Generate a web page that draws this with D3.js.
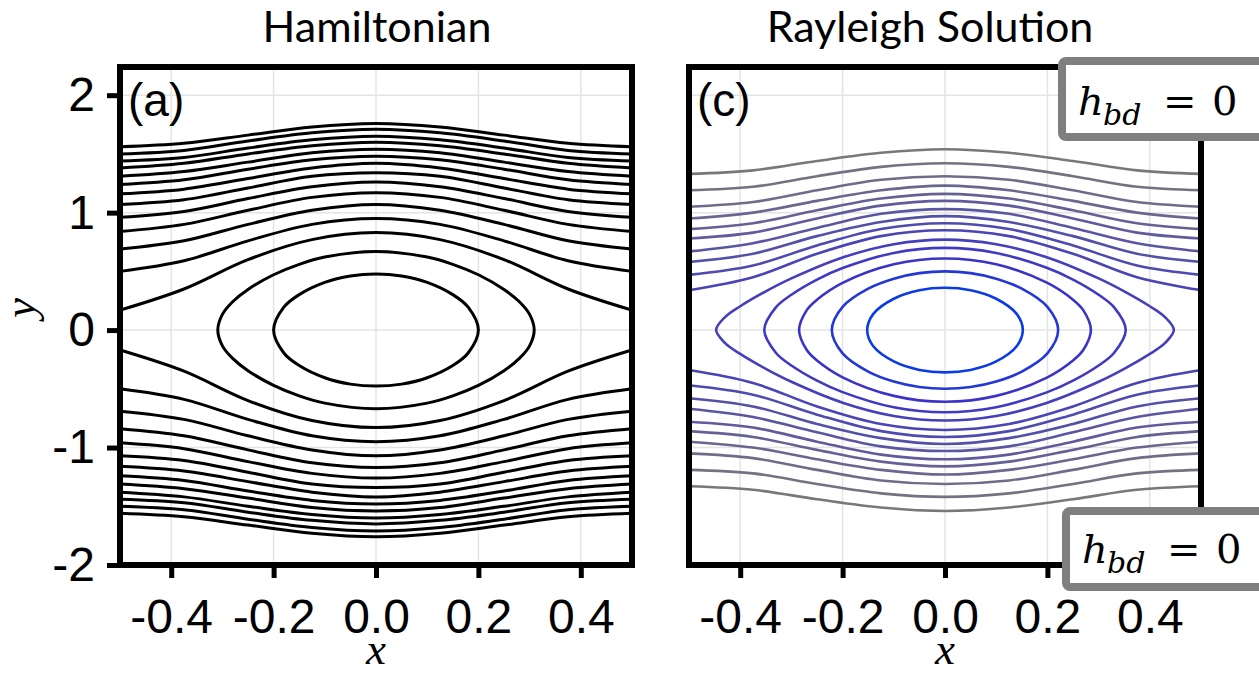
<!DOCTYPE html>
<html>
<head>
<meta charset="utf-8">
<script src="https://cdn.jsdelivr.net/npm/d3@7"></script>
<style>
  body { margin: 0; background: #fff; }
  svg { display: block; }
</style>
</head>
<body>
<script>
// tick values
const xTicks = [-0.4, -0.2, 0, 0.2, 0.4]
const yTicks = [-2, -1, 0, 1, 2]

const sampleX = [-0.5, -0.375, -0.25, -0.125, 0, 0.125, 0.25, 0.375, 0.5]

// (a) Hamiltonian: open contours above / below the island, y at sampleX
const hamUpper = [
  [0.17, 0.35, 0.60, 0.77, 0.83, 0.77, 0.60, 0.35, 0.17],
  [0.50, 0.59, 0.76, 0.90, 0.95, 0.90, 0.76, 0.59, 0.50],
  [0.69, 0.76, 0.90, 1.02, 1.07, 1.02, 0.90, 0.76, 0.69],
  [0.84, 0.90, 1.02, 1.13, 1.17, 1.13, 1.02, 0.90, 0.84],
  [0.96, 1.01, 1.12, 1.22, 1.26, 1.22, 1.12, 1.01, 0.96],
  [1.07, 1.11, 1.21, 1.31, 1.34, 1.31, 1.21, 1.11, 1.07],
  [1.16, 1.20, 1.29, 1.38, 1.42, 1.38, 1.29, 1.20, 1.16],
  [1.24, 1.28, 1.37, 1.45, 1.48, 1.45, 1.37, 1.28, 1.24],
  [1.31, 1.35, 1.43, 1.51, 1.54, 1.51, 1.43, 1.35, 1.31],
  [1.38, 1.42, 1.50, 1.57, 1.60, 1.57, 1.50, 1.42, 1.38],
  [1.44, 1.47, 1.55, 1.62, 1.65, 1.62, 1.55, 1.47, 1.44],
  [1.50, 1.53, 1.61, 1.68, 1.71, 1.68, 1.61, 1.53, 1.50],
  [1.56, 1.59, 1.66, 1.73, 1.76, 1.73, 1.66, 1.59, 1.56]
]
const hamLower = [
  [-0.17, -0.35, -0.60, -0.77, -0.83, -0.77, -0.60, -0.35, -0.17],
  [-0.50, -0.59, -0.76, -0.90, -0.95, -0.90, -0.76, -0.59, -0.50],
  [-0.69, -0.76, -0.90, -1.02, -1.07, -1.02, -0.90, -0.76, -0.69],
  [-0.84, -0.90, -1.02, -1.13, -1.17, -1.13, -1.02, -0.90, -0.84],
  [-0.96, -1.01, -1.12, -1.22, -1.26, -1.22, -1.12, -1.01, -0.96],
  [-1.07, -1.11, -1.21, -1.31, -1.34, -1.31, -1.21, -1.11, -1.07],
  [-1.16, -1.20, -1.29, -1.38, -1.42, -1.38, -1.29, -1.20, -1.16],
  [-1.24, -1.28, -1.37, -1.45, -1.48, -1.45, -1.37, -1.28, -1.24],
  [-1.31, -1.35, -1.43, -1.51, -1.54, -1.51, -1.43, -1.35, -1.31],
  [-1.38, -1.42, -1.50, -1.57, -1.60, -1.57, -1.50, -1.42, -1.38],
  [-1.44, -1.47, -1.55, -1.62, -1.65, -1.62, -1.55, -1.47, -1.44],
  [-1.50, -1.53, -1.61, -1.68, -1.71, -1.68, -1.61, -1.53, -1.50],
  [-1.56, -1.59, -1.66, -1.73, -1.76, -1.73, -1.66, -1.59, -1.56]
]
// (a) closed orbits, [x, y] points around each loop
const hamIslands = [
  [[0.2, 0], [0.18, 0.195], [0.15, 0.302], [0.1, 0.406], [0.05, 0.46], [0, 0.477],
   [-0.05, 0.46], [-0.1, 0.406], [-0.15, 0.302], [-0.18, 0.195], [-0.2, 0],
   [-0.18, -0.195], [-0.15, -0.302], [-0.1, -0.406], [-0.05, -0.46], [0, -0.477],
   [0.05, -0.46], [0.1, -0.406], [0.15, -0.302], [0.18, -0.195]],
  [[0.309, 0], [0.3, 0.134], [0.28, 0.241], [0.25, 0.346], [0.2, 0.471], [0.15, 0.56], [0.1, 0.622], [0, 0.67],
   [-0.1, 0.622], [-0.15, 0.56], [-0.2, 0.471], [-0.25, 0.346], [-0.28, 0.241], [-0.3, 0.134], [-0.309, 0],
   [-0.3, -0.134], [-0.28, -0.241], [-0.25, -0.346], [-0.2, -0.471], [-0.15, -0.56], [-0.1, -0.622], [0, -0.67],
   [0.1, -0.622], [0.15, -0.56], [0.2, -0.471], [0.25, -0.346], [0.28, -0.241], [0.3, -0.134]]
]

// (c) Rayleigh solution: open contours, y at sampleX
const rayUpper = [
  [0.34, 0.45, 0.65, 0.80, 0.85, 0.80, 0.65, 0.45, 0.34],
  [0.47, 0.55, 0.72, 0.86, 0.91, 0.86, 0.72, 0.55, 0.47],
  [0.58, 0.65, 0.80, 0.92, 0.97, 0.92, 0.80, 0.65, 0.58],
  [0.67, 0.74, 0.87, 0.99, 1.03, 0.99, 0.87, 0.74, 0.67],
  [0.78, 0.83, 0.95, 1.06, 1.10, 1.06, 0.95, 0.83, 0.78],
  [0.86, 0.91, 1.02, 1.12, 1.16, 1.12, 1.02, 0.91, 0.86],
  [0.95, 1.00, 1.10, 1.19, 1.23, 1.19, 1.10, 1.00, 0.95],
  [1.05, 1.09, 1.19, 1.28, 1.31, 1.28, 1.19, 1.09, 1.05],
  [1.19, 1.22, 1.31, 1.39, 1.42, 1.39, 1.31, 1.22, 1.19],
  [1.33, 1.36, 1.44, 1.51, 1.54, 1.51, 1.44, 1.36, 1.33]
]
const rayLower = [
  [-0.34, -0.45, -0.65, -0.80, -0.85, -0.80, -0.65, -0.45, -0.34],
  [-0.47, -0.55, -0.72, -0.86, -0.91, -0.86, -0.72, -0.55, -0.47],
  [-0.58, -0.65, -0.80, -0.92, -0.97, -0.92, -0.80, -0.65, -0.58],
  [-0.67, -0.74, -0.87, -0.99, -1.03, -0.99, -0.87, -0.74, -0.67],
  [-0.78, -0.83, -0.95, -1.06, -1.10, -1.06, -0.95, -0.83, -0.78],
  [-0.86, -0.91, -1.02, -1.12, -1.16, -1.12, -1.02, -0.91, -0.86],
  [-0.95, -1.00, -1.10, -1.19, -1.23, -1.19, -1.10, -1.00, -0.95],
  [-1.05, -1.09, -1.19, -1.28, -1.31, -1.28, -1.19, -1.09, -1.05],
  [-1.19, -1.22, -1.31, -1.39, -1.42, -1.39, -1.31, -1.22, -1.19],
  [-1.33, -1.36, -1.44, -1.51, -1.54, -1.51, -1.44, -1.36, -1.33]
]
// (c) closed orbits
const rayIslands = [
  [[0.152, 0], [0.14, 0.138], [0.1, 0.267], [0.05, 0.339], [0, 0.36], [-0.05, 0.339], [-0.1, 0.267], [-0.14, 0.138],
   [-0.152, 0], [-0.14, -0.138], [-0.1, -0.267], [-0.05, -0.339], [0, -0.36], [0.05, -0.339], [0.1, -0.267], [0.14, -0.138]],
  [[0.221, 0], [0.2, 0.198], [0.15, 0.353], [0.1, 0.438], [0.05, 0.485], [0, 0.5], [-0.05, 0.485], [-0.1, 0.438],
   [-0.15, 0.353], [-0.2, 0.198], [-0.221, 0], [-0.2, -0.198], [-0.15, -0.353], [-0.1, -0.438], [-0.05, -0.485],
   [0, -0.5], [0.05, -0.485], [0.1, -0.438], [0.15, -0.353], [0.2, -0.198]],
  [[0.285, 0], [0.27, 0.17], [0.25, 0.259], [0.2, 0.402], [0.1, 0.56], [0, 0.61], [-0.1, 0.56], [-0.2, 0.402],
   [-0.25, 0.259], [-0.27, 0.17], [-0.285, 0], [-0.27, -0.17], [-0.25, -0.259], [-0.2, -0.402], [-0.1, -0.56],
   [0, -0.61], [0.1, -0.56], [0.2, -0.402], [0.25, -0.259], [0.27, -0.17]],
  [[0.353, 0], [0.33, 0.195], [0.3, 0.301], [0.25, 0.43], [0.2, 0.528], [0.1, 0.657], [0, 0.7], [-0.1, 0.657],
   [-0.2, 0.528], [-0.25, 0.43], [-0.3, 0.301], [-0.33, 0.195], [-0.353, 0], [-0.33, -0.195], [-0.3, -0.301],
   [-0.25, -0.43], [-0.2, -0.528], [-0.1, -0.657], [0, -0.7], [0.1, -0.657], [0.2, -0.528], [0.25, -0.43],
   [0.3, -0.301], [0.33, -0.195]],
  [[0.447, 0], [0.43, 0.109], [0.4, 0.203], [0.35, 0.33], [0.3, 0.44], [0.2, 0.618], [0.1, 0.731], [0, 0.77],
   [-0.1, 0.731], [-0.2, 0.618], [-0.3, 0.44], [-0.35, 0.33], [-0.4, 0.203], [-0.43, 0.109], [-0.447, 0],
   [-0.43, -0.109], [-0.4, -0.203], [-0.35, -0.33], [-0.3, -0.44], [-0.2, -0.618], [-0.1, -0.731], [0, -0.77],
   [0.1, -0.731], [0.2, -0.618], [0.3, -0.44], [0.35, -0.33], [0.4, -0.203], [0.43, -0.109]]
]

const width = 1259
const height = 691
const plotTop = 67
const plotBottom = 565

const svg = d3
  .select('body')
  .append('svg')
  .attr('width', width)
  .attr('height', height)
  .style('font-family', "'Liberation Sans', Arial, sans-serif")

const yScale = d3.scaleLinear().domain([-2, 2.24]).range([plotBottom, plotTop])

// contour colour for the Rayleigh panel, innermost loop = 0
const rayColor = d3
  .scaleLinear()
  .domain([0, 2, 14])
  .range(['#0a3be6', '#3b33c8', '#78787c'])

const panels = [
  {
    left: 120, right: 632, title: 'Hamiltonian', titleX: 377, tag: '(a)', showY: true,
    upper: hamUpper, lower: hamLower, islands: hamIslands,
    width: 3, color: () => '#000'
  },
  {
    left: 689, right: 1201, title: 'Rayleigh Solution', titleX: 930, tag: '(c)', showY: false,
    upper: rayUpper, lower: rayLower, islands: rayIslands,
    width: 2.6, color: rayColor
  }
]

panels.forEach(function(p) {
  const x = d3.scaleLinear().domain([-0.5, 0.5]).range([p.left, p.right])
  const g = svg.append('g')

  // grid
  g.selectAll('.vgrid')
    .data(xTicks)
    .join('line')
    .attr('x1', d => x(d))
    .attr('x2', d => x(d))
    .attr('y1', plotTop)
    .attr('y2', plotBottom)
    .attr('stroke', '#e4e4e4')
    .attr('stroke-width', 1.5)
  g.selectAll('.hgrid')
    .data(yTicks.filter(d => d > -2))
    .join('line')
    .attr('x1', p.left)
    .attr('x2', p.right)
    .attr('y1', d => yScale(d))
    .attr('y2', d => yScale(d))
    .attr('stroke', '#e4e4e4')
    .attr('stroke-width', 1.5)

  const openLine = d3
    .line()
    .x((d, i) => x(sampleX[i]))
    .y(d => yScale(d))
    .curve(d3.curveCatmullRom.alpha(0.5))
  const loopLine = d3
    .line()
    .x(d => x(d[0]))
    .y(d => yScale(d[1]))
    .curve(d3.curveCatmullRomClosed.alpha(0.5))

  const n = p.islands.length
  p.upper.concat(p.lower).forEach(function(c, i) {
    g.append('path')
      .attr('d', openLine(c))
      .attr('fill', 'none')
      .attr('stroke', p.color(n + (i % p.upper.length)))
      .attr('stroke-width', p.width)
  })
  p.islands.forEach(function(c, i) {
    g.append('path')
      .attr('d', loopLine(c))
      .attr('fill', 'none')
      .attr('stroke', p.color(i))
      .attr('stroke-width', p.width)
  })

  // frame
  g.append('rect')
    .attr('x', p.left)
    .attr('y', plotTop)
    .attr('width', p.right - p.left)
    .attr('height', plotBottom - plotTop)
    .attr('fill', 'none')
    .attr('stroke', '#000')
    .attr('stroke-width', 6)

  // x axis
  const xAxis = g
    .append('g')
    .attr('transform', 'translate(0,' + (plotBottom + 3) + ')')
    .call(
      d3.axisBottom(x)
        .tickValues(xTicks)
        .tickSize(10)
        .tickPadding(21)
        .tickFormat(d => d.toFixed(1))
    )
  xAxis.select('.domain').remove()
  xAxis.selectAll('line').attr('stroke', '#000').attr('stroke-width', 5)
  xAxis.selectAll('text')
    .style('font-size', '48px')
    .style('font-family', "'Liberation Sans', Arial, sans-serif")
    .attr('fill', '#000')

  if (p.showY) {
    const yAxis = g
      .append('g')
      .attr('transform', 'translate(' + (p.left - 3) + ',0)')
      .call(
        d3.axisLeft(yScale)
          .tickValues(yTicks)
          .tickSize(10)
          .tickPadding(12)
          .tickFormat(d => String(d))
      )
    yAxis.select('.domain').remove()
    yAxis.selectAll('line').attr('stroke', '#000').attr('stroke-width', 5)
    yAxis.selectAll('text')
      .style('font-size', '48px')
      .style('font-family', "'Liberation Sans', Arial, sans-serif")
      .attr('fill', '#000')

    svg.append('text')
      .attr('transform', 'translate(35,308) rotate(-90)')
      .attr('text-anchor', 'middle')
      .style('font-family', "'Liberation Serif', 'DejaVu Serif', serif")
      .style('font-style', 'italic')
      .style('font-size', '45px')
      .text('y')
  }

  // panel tag
  svg.append('text')
    .attr('x', p.left + 8)
    .attr('y', 116)
    .style('font-size', '46px')
    .text(p.tag)

  // title
  svg.append('text')
    .attr('x', p.titleX)
    .attr('y', 42)
    .attr('text-anchor', 'middle')
    .style('font-family', "Lato, 'Open Sans', sans-serif")
    .style('font-size', '43px')
    .text(p.title)

  // x label
  svg.append('text')
    .attr('x', (p.left + p.right) / 2)
    .attr('y', 664)
    .attr('text-anchor', 'middle')
    .style('font-family', "'Liberation Serif', 'DejaVu Serif', serif")
    .style('font-style', 'italic')
    .style('font-size', '45px')
    .text('x')
})

// h_bd = 0 call-out boxes
function hbdBox(bx, by, base) {
  svg.append('rect')
    .attr('x', bx)
    .attr('y', by)
    .attr('width', 240)
    .attr('height', 76)
    .attr('rx', 4)
    .attr('fill', '#fff')
    .attr('stroke', '#7f7f7f')
    .attr('stroke-width', 8)
  const t = svg.append('text')
    .attr('y', base)
    .style('font-family', "'DejaVu Serif', 'Liberation Serif', serif")
    .style('font-size', '40px')
    .attr('fill', '#000')
  t.append('tspan').attr('x', bx + 16).style('font-style', 'italic').text('h')
  t.append('tspan')
    .attr('x', bx + 41)
    .attr('dy', 10)
    .style('font-style', 'italic')
    .style('font-size', '30px')
    .text('bd')
  t.append('tspan').attr('x', bx + 101).attr('dy', -10).text('=')
  t.append('tspan').attr('x', bx + 150).text('0')
}
hbdBox(1062, 61, 115)
hbdBox(1066, 511, 563)
</script>
</body>
</html>
